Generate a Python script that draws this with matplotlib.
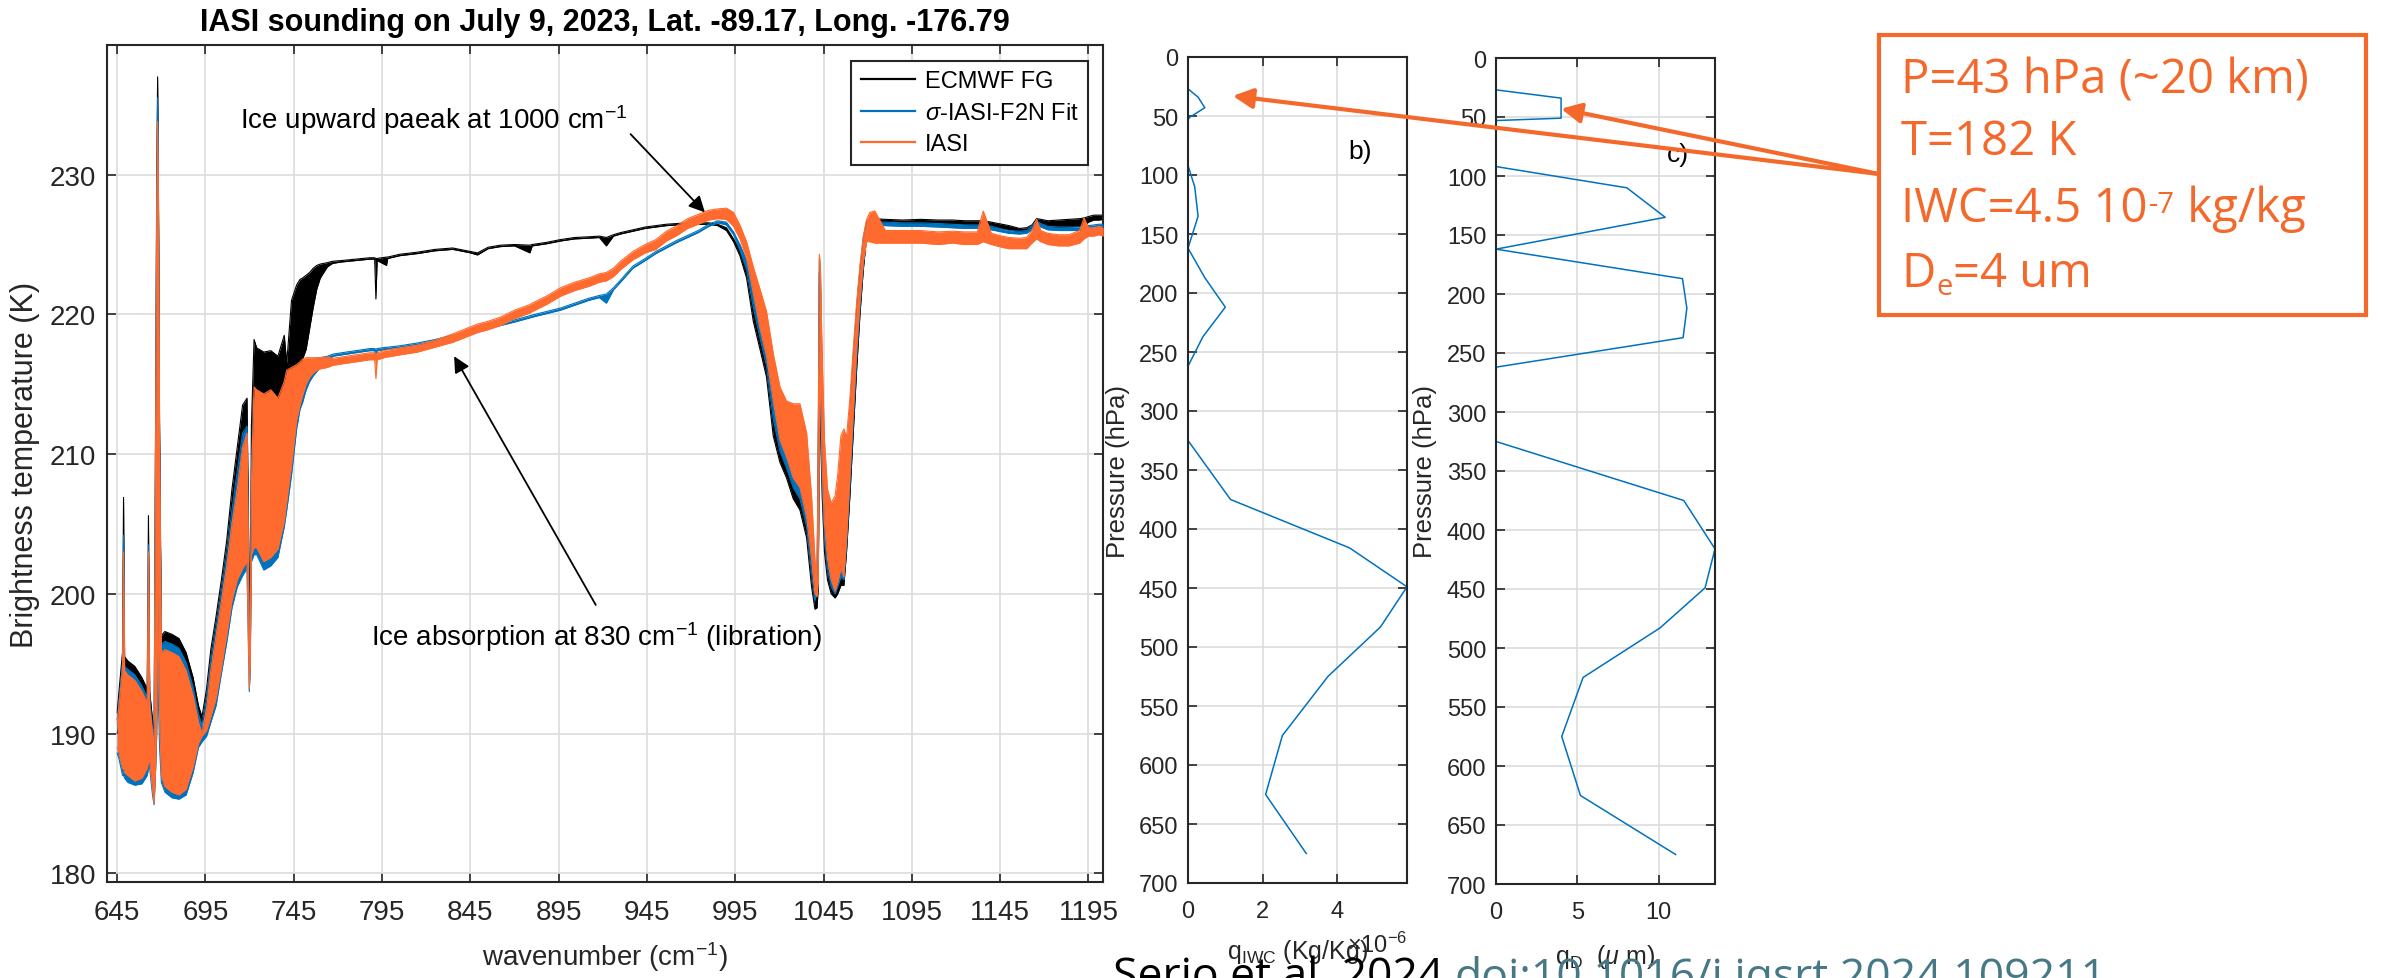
import numpy as np
import matplotlib
matplotlib.use('Agg')
import matplotlib.pyplot as plt
from matplotlib.lines import Line2D
from matplotlib.patches import Rectangle, ConnectionPatch
from matplotlib.text import Annotation

plt.rcParams['font.family'] = ['Liberation Sans', 'DejaVu Sans']
plt.rcParams['mathtext.fontset'] = 'custom'
plt.rcParams['mathtext.rm'] = 'Liberation Sans'
plt.rcParams['mathtext.it'] = 'Liberation Sans:italic'
plt.rcParams['mathtext.bf'] = 'Liberation Sans:bold'

# ---------------- spectrum (upper/lower envelope) ----------------
# dense CO2 band 645-765
wnA = [645, 646, 648, 648.6, 649.2, 651, 655, 659, 662, 662.7,
       663.4, 665, 665.9, 666.8, 667.4, 667.9, 668.4, 669, 670, 672,
       676, 680, 684, 688, 691, 693, 695.6, 698, 701, 704,
       707, 710, 713, 716, 718.5, 719.8, 720.3, 721, 722.5, 724,
       728, 732, 736, 739.6, 741, 743.7, 746.6, 748.5, 750, 752,
       754, 756, 758, 760, 764]
black_hiA = [191.5, 193.0, 195.8, 206.9, 195.5, 195.2, 194.8, 194.0, 193.2, 205.6,
             193.0, 191.0, 190.0, 215.0, 230.0, 237.0, 228.0, 212.0, 197.0, 197.3,
             197.1, 196.8, 195.8, 194.0, 192.0, 191.2, 193.2, 196.0, 198.4, 201.0,
             203.8, 207.5, 210.5, 213.5, 214.0, 200.0, 198.0, 212.0, 218.2, 217.6,
             217.3, 217.4, 217.0, 218.5, 216.5, 221.0, 222.1, 222.5, 222.6, 222.8,
             223.0, 223.3, 223.5, 223.6, 223.7]
black_loA = [190.0, 190.5, 190.0, 191.0, 190.0, 189.5, 189.0, 189.0, 189.5, 190.0,
             190.0, 188.5, 188.0, 190.0, 200.0, 205.0, 200.0, 198.0, 189.5, 188.5,
             188.0, 188.0, 188.5, 190.0, 191.0, 190.8, 191.5, 193.0, 195.0, 197.0,
             199.5, 202.0, 204.0, 205.0, 205.5, 196.5, 197.0, 205.0, 206.0, 206.0,
             205.0, 205.5, 206.0, 208.0, 209.5, 211.0, 214.0, 215.5, 216.8, 217.5,
             219.0, 220.5, 221.8, 222.6, 223.4]
fit_hiA = [191.0, 192.3, 195.0, 204.2, 194.8, 194.6, 194.2, 193.4, 192.6, 203.5,
           192.4, 190.4, 189.5, 214.0, 229.0, 235.5, 227.0, 211.0, 196.4, 196.6,
           196.4, 196.1, 195.1, 193.3, 191.4, 190.6, 192.5, 195.2, 197.6, 200.2,
           202.8, 206.0, 208.8, 211.5, 212.0, 197.0, 196.0, 209.0, 214.0, 213.8,
           213.2, 213.6, 213.2, 214.5, 215.0, 215.6, 216.0, 216.3, 216.5, 216.6,
           216.7, 216.75, 216.85, 216.9, 217.0]
fit_loA = [188.6, 188.2, 187.0, 187.0, 186.8, 186.5, 186.3, 186.4, 187.0, 187.5,
           187.5, 185.6, 184.9, 187.5, 190.0, 195.0, 192.0, 189.0, 186.5, 185.8,
           185.4, 185.3, 185.6, 187.2, 189.0, 189.4, 189.8, 190.8, 192.0, 194.3,
           196.5, 199.0, 200.5, 201.3, 201.8, 193.0, 194.5, 202.3, 202.8, 202.8,
           201.7, 202.0, 202.6, 204.8, 206.0, 208.5, 211.8, 213.2, 213.7, 214.6,
           215.2, 215.6, 215.9, 216.2, 216.5]
iasi_hiA = [190.8, 192.0, 194.6, 203.0, 194.5, 194.2, 193.8, 193.0, 192.2, 203.0,
            192.0, 190.0, 189.0, 213.0, 228.0, 233.8, 226.0, 210.0, 195.8, 196.0,
            195.8, 195.5, 194.5, 192.7, 190.8, 190.0, 191.8, 194.5, 197.0, 199.5,
            202.0, 205.0, 207.5, 210.5, 211.5, 196.0, 195.5, 208.0, 214.8, 214.6,
            214.3, 214.6, 214.0, 215.2, 216.0, 216.2, 216.4, 216.6, 216.8, 216.9,
            216.9, 216.9, 216.9, 216.9, 216.95]
iasi_loA = [189.0, 188.6, 187.5, 187.5, 187.2, 187.0, 186.6, 186.8, 187.5, 188.0,
            188.0, 186.0, 185.0, 188.0, 192.0, 200.0, 196.0, 191.0, 187.0, 186.2,
            185.8, 185.6, 186.0, 187.6, 189.3, 189.8, 190.2, 191.2, 192.5, 194.7,
            197.0, 199.5, 201.0, 201.8, 202.3, 193.2, 195.0, 202.8, 203.3, 203.3,
            202.3, 202.6, 203.2, 205.2, 206.6, 209.2, 212.4, 213.5, 214.2, 215.0,
            215.5, 215.8, 216.0, 216.1, 216.2]

# window region 767-985
wnB = [767, 772, 780, 788, 790.8, 791.5, 792.2, 797.5, 798.2, 805,
       815, 825, 835, 845, 849, 855, 862, 870, 878.7, 880,
       888, 896, 904, 912, 918, 922, 926, 930, 937, 944,
       950, 956, 962, 968, 974, 980, 985]
black_hiB = [223.8, 223.85, 223.95, 224.05, 224.05, 224.0, 224.0, 224.1, 224.1, 224.3,
             224.45, 224.65, 224.75, 224.5, 224.4, 224.8, 224.95, 225.0, 224.95, 225.0,
             225.15, 225.35, 225.5, 225.55, 225.6, 225.5, 225.7, 225.85, 226.05, 226.25,
             226.35, 226.45, 226.5, 226.55, 226.55, 226.55, 226.45]
black_loB = [223.65, 223.75, 223.85, 223.95, 223.95, 221.1, 223.85, 223.5, 224.0, 224.2,
             224.35, 224.55, 224.65, 224.4, 224.25, 224.7, 224.85, 224.9, 224.4, 224.9,
             225.05, 225.25, 225.4, 225.45, 225.5, 224.9, 225.6, 225.75, 225.95, 226.15,
             226.25, 226.35, 226.4, 226.45, 226.45, 226.45, 226.35]
fit_hiB = [217.15, 217.25, 217.4, 217.55, 217.55, 217.5, 217.55, 217.65, 217.65, 217.75,
           217.95, 218.2, 218.5, 218.8, 218.95, 219.15, 219.35, 219.6, 219.9, 219.95,
           220.2, 220.45, 220.8, 221.15, 221.35, 221.45, 221.9, 222.45, 223.45, 224.0,
           224.5, 224.9, 225.3, 225.65, 226.0, 226.45, 226.7]
fit_loB = [217.0, 217.1, 217.25, 217.4, 217.4, 216.9, 217.4, 217.5, 217.5, 217.6,
           217.8, 218.05, 218.35, 218.65, 218.8, 219.0, 219.2, 219.45, 219.75, 219.8,
           220.05, 220.3, 220.65, 221.0, 221.2, 220.8, 221.75, 222.3, 223.3, 223.85,
           224.35, 224.75, 225.15, 225.5, 225.85, 226.3, 226.55]
iasi_hiB = [216.85, 216.95, 217.1, 217.25, 217.25, 216.9, 217.25, 217.45, 217.45, 217.6,
            217.8, 218.15, 218.6, 219.1, 219.3, 219.5, 219.8, 220.3, 220.7, 220.8,
            221.3, 221.9, 222.3, 222.6, 222.9, 223.0, 223.3, 223.8, 224.5, 225.0,
            225.35, 225.95, 226.35, 226.85, 227.15, 227.45, 227.55]
iasi_loB = [216.35, 216.45, 216.6, 216.75, 216.75, 215.4, 216.75, 216.95, 216.95, 217.1,
            217.3, 217.65, 218.0, 218.5, 218.7, 218.9, 219.2, 219.7, 220.1, 220.2,
            220.7, 221.3, 221.7, 222.0, 222.3, 222.4, 222.7, 223.2, 223.9, 224.4,
            224.65, 225.25, 225.65, 226.15, 226.45, 226.75, 226.85]

# ozone band 990-1071
wnC = [990, 994, 997.6, 1001.4, 1005.2, 1009, 1012.7, 1016.5, 1020.3, 1024,
       1027.8, 1031.6, 1035.4, 1038.2, 1040.1, 1041.3, 1042, 1042.6, 1043.2, 1044.2,
       1045.5, 1047.2, 1049.3, 1051.5, 1053, 1054.8, 1056.5, 1058, 1059.9, 1061.8,
       1063.7, 1065.6, 1067.5, 1069.4, 1071.2]
black_hiC = [226.2, 225.4, 224.6, 223.2, 221.5, 219.5, 217.5, 214.8, 212.0, 211.0,
             210.5, 210.5, 208.5, 204.5, 201.0, 200.5, 210.0, 223.0, 222.0, 214.0,
             209.0, 205.5, 204.0, 204.5, 206.0, 209.0, 209.5, 209.0, 212.0, 216.0,
             219.8, 222.8, 225.0, 226.5, 226.8]
black_loC = [226.0, 225.2, 224.2, 222.6, 219.5, 217.5, 215.5, 211.3, 209.4, 208.3,
             206.8, 206.0, 204.0, 200.5, 198.9, 199.0, 200.5, 212.0, 212.0, 207.0,
             203.0, 201.0, 200.0, 199.7, 200.0, 200.6, 200.6, 203.0, 207.0, 211.5,
             216.0, 220.0, 223.2, 225.6, 226.6]
fit_hiC = [226.6, 225.9, 225.0, 223.9, 222.5, 220.5, 218.5, 215.8, 213.0, 212.0,
           211.5, 211.5, 209.5, 205.5, 201.5, 200.8, 211.0, 224.0, 223.0, 215.5,
           210.0, 206.5, 205.0, 205.5, 207.2, 210.0, 210.5, 210.0, 213.0, 217.0,
           220.5, 223.3, 225.5, 226.7, 226.8]
fit_loC = [226.4, 225.7, 224.6, 223.2, 220.5, 218.3, 216.3, 212.5, 210.2, 209.0,
           207.6, 206.8, 204.8, 201.5, 199.5, 200.1, 200.8, 212.5, 213.5, 208.0,
           204.0, 201.8, 200.5, 200.0, 200.5, 201.2, 201.0, 203.5, 207.8, 212.3,
           216.8, 220.5, 223.5, 225.8, 226.4]
iasi_hiC = [227.6, 227.3, 226.4, 225.2, 223.4, 221.8, 220.2, 217.2, 214.8, 213.8,
            213.6, 213.6, 211.5, 207.0, 202.5, 201.0, 212.0, 224.3, 223.5, 217.0,
            211.0, 207.5, 206.5, 207.0, 208.5, 211.3, 211.8, 211.2, 214.0, 217.5,
            220.8, 223.5, 225.6, 226.8, 227.3]
iasi_loC = [226.8, 226.3, 225.4, 224.0, 221.5, 219.0, 217.0, 213.8, 211.0, 209.8,
            208.3, 207.6, 205.5, 202.5, 200.0, 199.8, 201.0, 213.0, 215.0, 209.0,
            205.0, 202.5, 201.0, 200.2, 200.8, 201.8, 201.2, 204.0, 208.5, 213.0,
            217.5, 221.0, 223.8, 225.2, 225.2]

# 1074-1203
wnD = [1074, 1080, 1090, 1100, 1110, 1118, 1125, 1132, 1135.4, 1140,
       1146, 1150, 1156, 1160, 1163, 1165.6, 1168, 1172, 1178, 1184,
       1190, 1192.5, 1195, 1198, 1201, 1203.4]
black_hiD = [226.85, 226.8, 226.75, 226.8, 226.75, 226.75, 226.7, 226.7, 226.7, 226.6,
             226.45, 226.35, 226.15, 226.2, 226.4, 226.85, 226.8, 226.7, 226.75, 226.8,
             226.85, 226.9, 227.0, 227.1, 227.1, 227.1]
black_loD = [226.55, 226.5, 226.45, 226.5, 226.45, 226.45, 226.4, 226.35, 226.35, 226.25,
             226.15, 226.05, 225.9, 225.95, 226.05, 226.4, 226.35, 226.2, 226.2, 226.25,
             226.3, 226.4, 226.6, 226.75, 226.75, 226.8]
fit_hiD = [226.65, 226.6, 226.55, 226.55, 226.5, 226.45, 226.4, 226.4, 226.4, 226.3,
           226.1, 226.0, 225.95, 226.0, 226.3, 226.7, 226.5, 226.3, 226.25, 226.25,
           226.25, 226.3, 226.35, 226.4, 226.45, 226.45]
fit_loD = [226.4, 226.35, 226.3, 226.3, 226.25, 226.2, 226.15, 226.15, 226.15, 226.05,
           225.9, 225.8, 225.75, 225.8, 226.05, 226.45, 226.25, 226.05, 226.0, 226.0,
           226.0, 226.05, 226.15, 226.2, 226.25, 226.25]
iasi_hiD = [227.4, 226.0, 226.0, 226.0, 225.9, 225.95, 225.9, 225.9, 227.4, 225.8,
            225.6, 225.5, 225.45, 225.5, 226.0, 226.8, 226.0, 225.8, 225.7, 225.7,
            226.0, 226.9, 226.2, 226.2, 226.3, 226.2]
iasi_loD = [225.1, 225.1, 225.1, 225.1, 225.0, 225.1, 225.0, 225.0, 225.2, 225.0,
            224.8, 224.7, 224.7, 224.7, 225.1, 225.4, 225.2, 225.0, 224.9, 224.9,
            225.1, 225.4, 225.6, 225.6, 225.7, 225.6]

wn = np.array(wnA + wnB + wnC + wnD)
black_hi = np.array(black_hiA + black_hiB + black_hiC + black_hiD)
black_lo = np.array(black_loA + black_loB + black_loC + black_loD)
fit_hi = np.array(fit_hiA + fit_hiB + fit_hiC + fit_hiD)
fit_lo = np.array(fit_loA + fit_loB + fit_loC + fit_loD)
iasi_hi = np.array(iasi_hiA + iasi_hiB + iasi_hiC + iasi_hiD)
iasi_lo = np.array(iasi_loA + iasi_loB + iasi_loC + iasi_loD)
for arr in (black_hi, black_lo, fit_hi, fit_lo, iasi_hi, iasi_lo):
    assert len(arr) == len(wn)

# ---------------- retrieved profiles ----------------
p_lev = [0, 27, 34, 43, 51, 53, 92, 110, 135, 162, 187, 212, 237, 262, 300, 325,
         375, 416, 449, 483, 525, 575, 625, 675]
iwc = [0, 0, 0.27, 0.45, 0.05, 0, 0, 0.18, 0.27, 0, 0.45, 1.0, 0.40, 0, 0, 0,
       1.14, 4.33, 5.87, 5.16, 3.75, 2.53, 2.08, 3.17]          # x 1e-6 kg/kg
de = [0, 0, 4.0, 4.0, 4.0, 0, 0, 8.04, 10.4, 0, 11.46, 11.73, 11.5, 0, 0, 0,
      11.54, 13.46, 12.85, 10.08, 5.35, 4.04, 5.19, 11.04]      # um

c_black = 'k'
c_blue = '#0072BD'
c_orange = '#FF6B2E'
c_box = '#F4692B'
c_axis = '#262626'
c_grid = '#dcdcdc'

W, H = 2382, 979
fig = plt.figure(figsize=(W / 100, H / 100), dpi=100)


def matlab_style(ax, fs):
    ax.grid(True, color=c_grid, lw=1.2)
    ax.set_axisbelow(True)
    ax.tick_params(which='both', direction='in', top=True, right=True,
                   length=6.5, width=1.2, colors=c_axis, labelsize=fs)
    for s in ax.spines.values():
        s.set_color(c_axis)
        s.set_linewidth(1.5)


# ---------------- main spectrum ----------------
ax = fig.add_axes([107.3 / W, 1 - 883.3 / H, 996 / W, 837.6 / H])
for k, (lo, hi, c) in enumerate(((black_lo, black_hi, c_black), (fit_lo, fit_hi, c_blue),
                                 (iasi_lo, iasi_hi, c_orange))):
    z = 2 + k
    ax.fill_between(wn, lo, hi, color=c, lw=0, zorder=z)
    ax.plot(wn, hi, color=c, lw=0.8, zorder=z)
    ax.plot(wn, lo, color=c, lw=0.8, zorder=z)

ax.set_xlim(639.4, 1203.4)
ax.set_ylim(179.35, 239.3)
ax.set_xticks(np.arange(645, 1196, 50))
ax.set_yticks(np.arange(180, 231, 10))
matlab_style(ax, 20)
ax.tick_params(axis='x', pad=12)
ax.tick_params(axis='y', pad=8)
ax.set_title('IASI sounding on July 9, 2023, Lat. -89.17, Long. -176.79',
             fontsize=22, fontweight='bold', y=1.0176, pad=0)
ax.set_ylabel('Brightness temperature (K)', fontsize=22, color=c_axis)
ax.yaxis.set_label_coords(-0.0676, 0.5)
ax.set_xlabel('wavenumber (cm$^{-1}$)', fontsize=20, color=c_axis, va='top')
ax.xaxis.set_label_coords(0.5, -0.0677)

handles = [Line2D([], [], color=c_black, lw=1.6),
           Line2D([], [], color=c_blue, lw=1.6),
           Line2D([], [], color=c_orange, lw=1.6)]
leg = ax.legend(handles, ['ECMWF FG', r'$\sigma$-IASI-F2N Fit', 'IASI'],
                loc='upper right', bbox_to_anchor=(0.9846, 0.9805), borderaxespad=0,
                fontsize=17, fancybox=False, framealpha=1, edgecolor=c_axis,
                handlelength=2.3, handletextpad=0.4, labelspacing=0.4, borderpad=0.4)
leg.get_frame().set_linewidth(1.5)
leg.set_zorder(10)

ax.text(714.5, 234.0, 'Ice upward paeak at 1000 cm$^{-1}$', fontsize=20, va='center')
ax.annotate('', xy=(977.8, 227.3), xytext=(935.7, 232.9),
            arrowprops=dict(arrowstyle='-|>', color='k', lw=1.3, mutation_scale=24,
                            shrinkA=0, shrinkB=0), zorder=8)
ax.text(788.8, 197.0, 'Ice absorption at 830 cm$^{-1}$ (libration)', fontsize=20, va='center')
ax.annotate('', xy=(835.8, 217.0), xytext=(916.0, 199.2),
            arrowprops=dict(arrowstyle='-|>', color='k', lw=1.3, mutation_scale=24,
                            shrinkA=0, shrinkB=0), zorder=8)

# ---------------- IWC profile ----------------
axb = fig.add_axes([1188 / W, 1 - 884 / H, 219 / W, 826 / H])
axb.plot(iwc, p_lev, color=c_blue, lw=1.1)
axb.set_xlim(0, max(iwc))
axb.set_ylim(700, 0)
axb.set_xticks([0, 2, 4])
axb.set_yticks(np.arange(0, 701, 50))
matlab_style(axb, 17)
axb.tick_params(axis='x', pad=12)
axb.tick_params(axis='y', pad=7)
axb.set_ylabel('Pressure (hPa)', fontsize=18.5, color=c_axis)
axb.yaxis.set_label_coords(-0.265, 0.5)
axb.set_xlabel(r'q$_{\mathrm{IWC}}$ (Kg/Kg)', fontsize=18, color=c_axis, va='top')
axb.xaxis.set_label_coords(0.5, -0.065)
axb.text(0.726, -0.074, r'$\times$10$^{-6}$', transform=axb.transAxes, fontsize=17,
         color=c_axis, va='center')
axb.text(4.3, 80, 'b)', fontsize=19, va='center')

# ---------------- particle size profile ----------------
axc = fig.add_axes([1496 / W, 1 - 885 / H, 219 / W, 826 / H])
axc.plot(de, p_lev, color=c_blue, lw=1.1)
axc.set_xlim(0, max(de))
axc.set_ylim(700, 0)
axc.set_xticks([0, 5, 10])
axc.set_yticks(np.arange(0, 701, 50))
matlab_style(axc, 17)
axc.tick_params(axis='x', pad=12)
axc.tick_params(axis='y', pad=7)
axc.set_ylabel('Pressure (hPa)', fontsize=18.5, color=c_axis)
axc.yaxis.set_label_coords(-0.269, 0.5)
axc.set_xlabel(r'q$_{\mathrm{D}}$  ($\mu$ m)', fontsize=18, color=c_axis, va='top')
axc.xaxis.set_label_coords(0.5, -0.07)
axc.text(10.5, 81, 'c)', fontsize=19, va='center')

# ---------------- orange info box ----------------
fig.add_artist(Rectangle((1879 / W, 1 - 316 / H), (2366 - 1879) / W, 280 / H,
                         transform=fig.transFigure, fill=False, ec=c_box, lw=3))
bx = 1901 / W
fkw = dict(color=c_box, fontsize=34, family='Open Sans')
skw = dict(color=c_box, fontsize=21, family='Open Sans')
fig.text(bx, 1 - 81 / H, 'P=43 hPa (~20 km)', va='center', **fkw)
fig.text(bx, 1 - 142 / H, 'T=182 K', va='center', **fkw)
t1 = fig.text(bx, 1 - 209 / H, 'IWC=4.5 10', va='center', **fkw)
a_sup = fig.add_artist(Annotation('-7', xy=(1, 1), xycoords=t1, xytext=(1, -4),
                                  textcoords='offset points', va='top', **skw))
fig.add_artist(Annotation(' kg/kg', xy=(1, 0), xycoords=(a_sup, t1), va='bottom', **fkw))
tD = fig.text(bx, 1 - 274 / H, 'D', va='center', **fkw)
a_sub = fig.add_artist(Annotation('e', xy=(1, 0), xycoords=tD, xytext=(1, -3),
                                  textcoords='offset points', va='bottom', **skw))
fig.add_artist(Annotation('=4 um', xy=(1, 0), xycoords=(a_sub, tD), va='bottom', **fkw))

tail = (1879 / W, 1 - 175 / H)
for axis_, tip in ((axc, (4.0, 43)), (axb, (1.2, 33))):
    con = ConnectionPatch(xyA=tail, coordsA='figure fraction', xyB=tip, coordsB='data',
                          axesB=axis_, arrowstyle='-|>', color=c_box, lw=3,
                          mutation_scale=30, shrinkA=0, shrinkB=0)
    fig.add_artist(con)

# ---------------- reference line at the bottom ----------------
ref = fig.text(1113 / W, 1 - 956 / H, 'Serio et al. 2024 ', va='top', fontsize=32,
               family='Open Sans', color='k')
fig.add_artist(Annotation('doi:10.1016/j.jqsrt.2024.109211', xy=(1, 1), xycoords=ref,
                          va='top', fontsize=32, family='Open Sans', color='#467886'))

fig.savefig('out.png', dpi=100)
